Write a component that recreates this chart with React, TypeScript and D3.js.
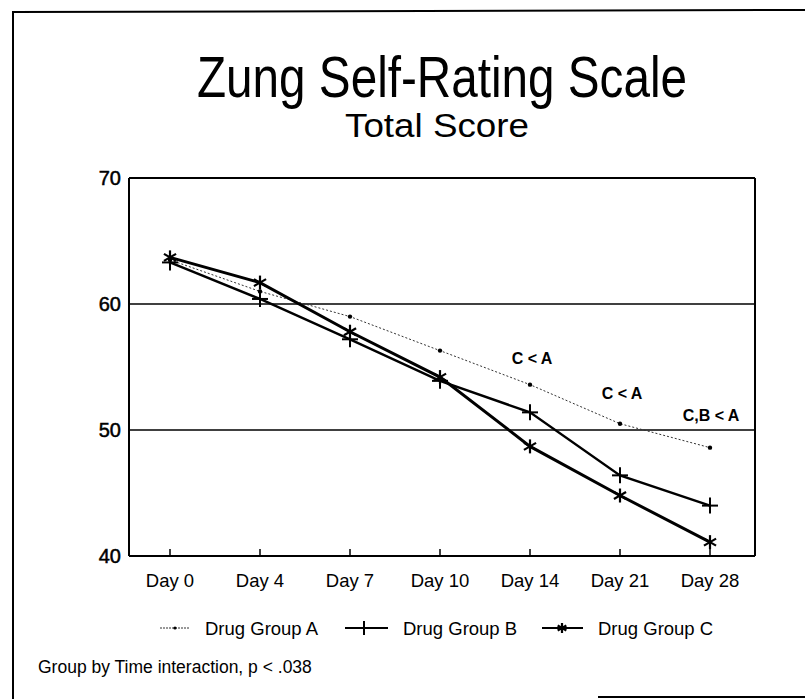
import React from "react";
import * as d3 from "d3";

const days = ["Day 0", "Day 4", "Day 7", "Day 10", "Day 14", "Day 21", "Day 28"];
const groupA = [63.5, 61.0, 59.0, 56.3, 53.6, 50.5, 48.6];
const groupB = [63.3, 60.4, 57.2, 53.9, 51.4, 46.4, 44.0];
const groupC = [63.7, 61.7, 57.8, 54.2, 48.7, 44.8, 41.1];
const yTicks = [40, 50, 60, 70];
const gridValues = [50, 60];
const seriesNames = ["Drug Group A", "Drug Group B", "Drug Group C"];
const annotations = [
  { text: "C < A", day: "Day 14", value: 55.2, dx: 2 },
  { text: "C < A", day: "Day 21", value: 52.45, dx: 2 },
  { text: "C,B < A", day: "Day 28", value: 50.7, dx: 1 },
];

const FONT = "'Liberation Sans', Arial, Helvetica, sans-serif";

function Plus({ x, y, s = 8 }: { x: number; y: number; s?: number }) {
  return (
    <g stroke="#000" strokeWidth={2}>
      <line x1={x - s} y1={y} x2={x + s} y2={y} />
      <line x1={x} y1={y - s} x2={x} y2={y + s} />
    </g>
  );
}

function Star({ x, y, s = 7 }: { x: number; y: number; s?: number }) {
  const angles = [90, 30, -30];
  return (
    <g stroke="#000" strokeWidth={2.2}>
      {angles.map((a) => {
        const r = (a * Math.PI) / 180;
        const dx = Math.cos(r) * s;
        const dy = Math.sin(r) * s;
        return <line key={a} x1={x - dx} y1={y - dy} x2={x + dx} y2={y + dy} />;
      })}
    </g>
  );
}

export default function App() {
  const W = 805;
  const H = 699;
  const left = 129;
  const right = 755;
  const top = 178;
  const bottom = 556;

  const x = d3.scalePoint<string>().domain(days).range([170, 710]);
  const y = d3.scaleLinear().domain([40, 70]).range([bottom, top]);

  const line = d3
    .line<number>()
    .x((_, i) => x(days[i]) as number)
    .y((d) => y(d));

  return (
    <svg
      width={W}
      height={H}
      style={{ position: "absolute", left: 0, top: 0, background: "#fff" }}
      fontFamily={FONT}
    >
      <rect x={0} y={0} width={W} height={H} fill="#fff" />
      {/* outer frame */}
      <line x1={12} y1={12} x2={805} y2={10} stroke="#000" strokeWidth={2} />
      <line x1={13} y1={12} x2={13} y2={699} stroke="#000" strokeWidth={2} />
      <line x1={598} y1={697} x2={805} y2={697} stroke="#000" strokeWidth={2} />

      {/* titles */}
      <text
        x={442}
        y={97}
        fontSize={57}
        textAnchor="middle"
        textLength={490}
        lengthAdjust="spacingAndGlyphs"
      >
        Zung Self-Rating Scale
      </text>
      <text
        x={437}
        y={137}
        fontSize={34}
        textAnchor="middle"
        textLength={184}
        lengthAdjust="spacingAndGlyphs"
      >
        Total Score
      </text>

      {/* grid lines */}
      {gridValues.map((v) => (
        <line key={v} x1={left} x2={right} y1={y(v)} y2={y(v)} stroke="#000" strokeWidth={1.6} />
      ))}

      {/* plot frame */}
      <line x1={left} x2={right} y1={top} y2={top} stroke="#000" strokeWidth={1.8} />
      <line x1={left} x2={left} y1={top} y2={bottom} stroke="#000" strokeWidth={2} />
      <line x1={right} x2={right} y1={top} y2={bottom} stroke="#000" strokeWidth={2} />
      <line x1={left} x2={right} y1={bottom} y2={bottom} stroke="#000" strokeWidth={2.2} />

      {/* y tick labels */}
      {yTicks.map((t) => (
        <text
          key={t}
          x={121}
          y={y(t) + 7}
          fontSize={20}
          textAnchor="end"
          stroke="#000"
          strokeWidth={0.5}
        >
          {t}
        </text>
      ))}

      {/* x ticks & labels */}
      {days.map((d) => (
        <g key={d}>
          <line x1={x(d)} x2={x(d)} y1={bottom} y2={bottom - 7} stroke="#000" strokeWidth={1.5} />
          <text x={x(d)} y={587} fontSize={18.5} textAnchor="middle">
            {d}
          </text>
        </g>
      ))}

      {/* series A */}
      <path d={line(groupA) ?? ""} fill="none" stroke="#333" strokeWidth={1} strokeDasharray="2 2" />
      {groupA.map((v, i) => (
        <circle key={i} cx={x(days[i])} cy={y(v)} r={2.2} fill="#000" />
      ))}

      {/* series B */}
      <path d={line(groupB) ?? ""} fill="none" stroke="#000" strokeWidth={2.4} />
      {groupB.map((v, i) => (
        <Plus key={i} x={x(days[i]) as number} y={y(v)} />
      ))}

      {/* series C */}
      <path d={line(groupC) ?? ""} fill="none" stroke="#000" strokeWidth={3} />
      {groupC.map((v, i) => (
        <Star key={i} x={x(days[i]) as number} y={y(v)} />
      ))}

      {/* annotations */}
      {annotations.map((a, i) => (
        <text
          key={i}
          x={(x(a.day) as number) + a.dx}
          y={y(a.value)}
          fontSize={16}
          fontWeight="bold"
          textAnchor="middle"
        >
          {a.text}
        </text>
      ))}

      {/* legend */}
      <g>
        <line x1={160} x2={190} y1={628} y2={628} stroke="#333" strokeWidth={1} strokeDasharray="2 1" />
        <circle cx={175} cy={628} r={1.6} fill="#000" />
        <text x={205} y={635} fontSize={18.5}>{seriesNames[0]}</text>

        <line x1={345} x2={388} y1={628} y2={628} stroke="#000" strokeWidth={2} />
        <Plus x={364} y={628} s={7} />
        <text x={403} y={635} fontSize={18.5}>{seriesNames[1]}</text>

        <line x1={542} x2={583} y1={628} y2={628} stroke="#000" strokeWidth={2} />
        <Star x={562} y={628} s={5} />
        <text x={598} y={635} fontSize={18.5}>{seriesNames[2]}</text>
      </g>

      {/* footnote */}
      <text x={38} y={673} fontSize={17.5}>
        Group by Time interaction, p &lt; .038
      </text>
    </svg>
  );
}
